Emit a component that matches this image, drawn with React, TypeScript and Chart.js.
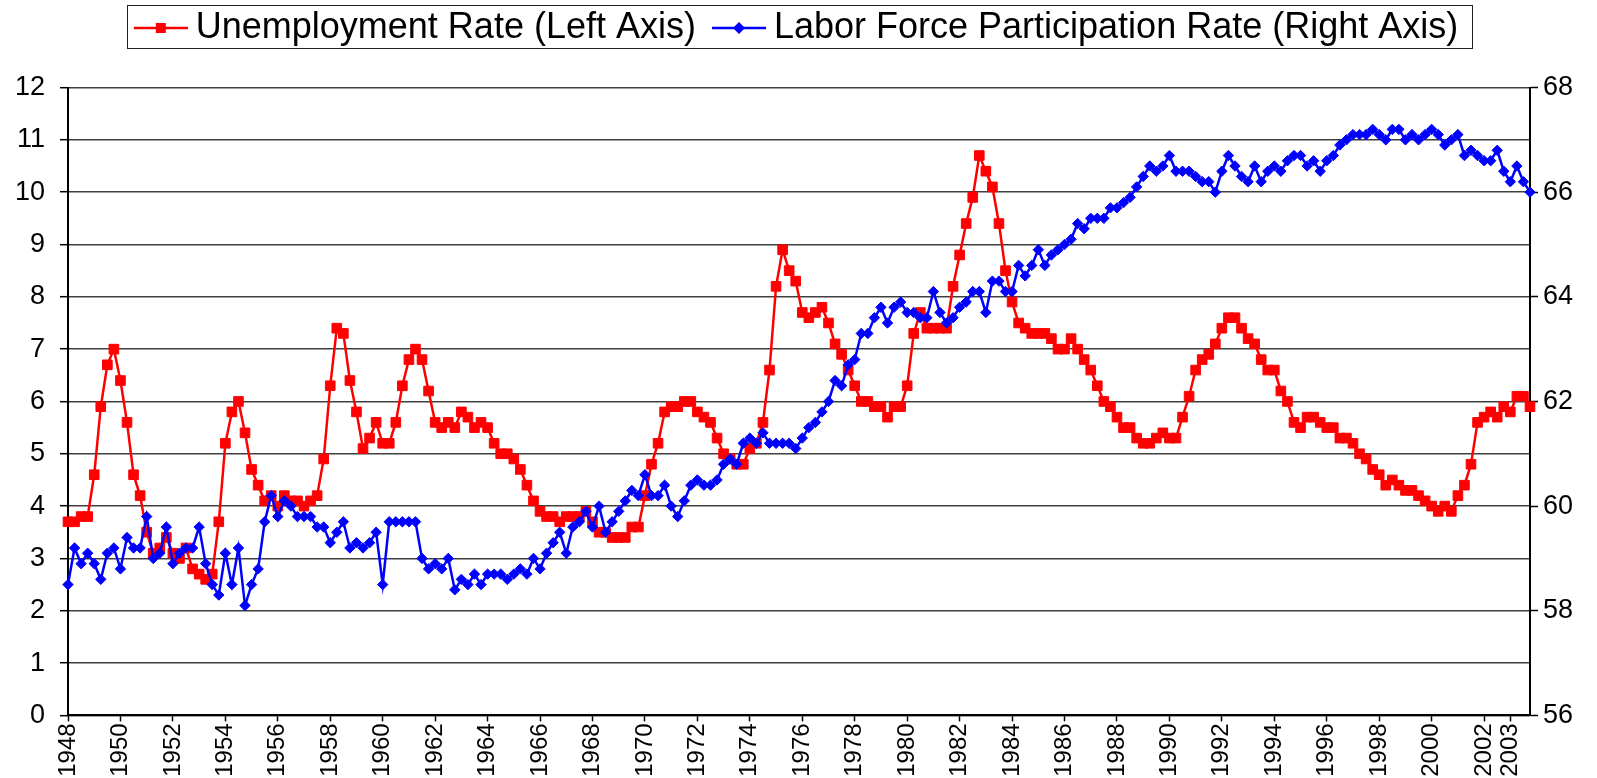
import React, { useEffect, useRef } from 'react';
import { Chart, registerables } from 'chart.js';

Chart.register(...registerables);

// ---------- data ----------
const FIRST_YEAR = 1948;
const LAST_YEAR = 2003;
const quarterNames = ['Q1', 'Q2', 'Q3', 'Q4'];
const tickYears = [
  1948, 1950, 1952, 1954, 1956, 1958, 1960, 1962, 1964, 1966, 1968, 1970, 1972, 1974,
  1976, 1978, 1980, 1982, 1984, 1986, 1988, 1990, 1992, 1994, 1996, 1998, 2000, 2002, 2003,
];

const quarters: string[] = [];
for (let y = FIRST_YEAR; y <= LAST_YEAR; y++) {
  for (const q of quarterNames) quarters.push(`${y} ${q}`);
}

// Unemployment rate, quarterly (left axis)
const unemploymentRate = [
  3.7, 3.7, 3.8, 3.8, // 1948
  4.6, 5.9, 6.7, 7.0, // 1949
  6.4, 5.6, 4.6, 4.2, // 1950
  3.5, 3.1, 3.2, 3.4, // 1951
  3.1, 3.0, 3.2, 2.8, // 1952
  2.7, 2.6, 2.7, 3.7, // 1953
  5.2, 5.8, 6.0, 5.4, // 1954
  4.7, 4.4, 4.1, 4.2, // 1955
  4.0, 4.2, 4.1, 4.1, // 1956
  4.0, 4.1, 4.2, 4.9, // 1957
  6.3, 7.4, 7.3, 6.4, // 1958
  5.8, 5.1, 5.3, 5.6, // 1959
  5.2, 5.2, 5.6, 6.3, // 1960
  6.8, 7.0, 6.8, 6.2, // 1961
  5.6, 5.5, 5.6, 5.5, // 1962
  5.8, 5.7, 5.5, 5.6, // 1963
  5.5, 5.2, 5.0, 5.0, // 1964
  4.9, 4.7, 4.4, 4.1, // 1965
  3.9, 3.8, 3.8, 3.7, // 1966
  3.8, 3.8, 3.8, 3.9, // 1967
  3.7, 3.5, 3.5, 3.4, // 1968
  3.4, 3.4, 3.6, 3.6, // 1969
  4.2, 4.8, 5.2, 5.8, // 1970
  5.9, 5.9, 6.0, 6.0, // 1971
  5.8, 5.7, 5.6, 5.3, // 1972
  5.0, 4.9, 4.8, 4.8, // 1973
  5.1, 5.2, 5.6, 6.6, // 1974
  8.2, 8.9, 8.5, 8.3, // 1975
  7.7, 7.6, 7.7, 7.8, // 1976
  7.5, 7.1, 6.9, 6.6, // 1977
  6.3, 6.0, 6.0, 5.9, // 1978
  5.9, 5.7, 5.9, 5.9, // 1979
  6.3, 7.3, 7.7, 7.4, // 1980
  7.4, 7.4, 7.4, 8.2, // 1981
  8.8, 9.4, 9.9, 10.7, // 1982
  10.4, 10.1, 9.4, 8.5, // 1983
  7.9, 7.5, 7.4, 7.3, // 1984
  7.3, 7.3, 7.2, 7.0, // 1985
  7.0, 7.2, 7.0, 6.8, // 1986
  6.6, 6.3, 6.0, 5.9, // 1987
  5.7, 5.5, 5.5, 5.3, // 1988
  5.2, 5.2, 5.3, 5.4, // 1989
  5.3, 5.3, 5.7, 6.1, // 1990
  6.6, 6.8, 6.9, 7.1, // 1991
  7.4, 7.6, 7.6, 7.4, // 1992
  7.2, 7.1, 6.8, 6.6, // 1993
  6.6, 6.2, 6.0, 5.6, // 1994
  5.5, 5.7, 5.7, 5.6, // 1995
  5.5, 5.5, 5.3, 5.3, // 1996
  5.2, 5.0, 4.9, 4.7, // 1997
  4.6, 4.4, 4.5, 4.4, // 1998
  4.3, 4.3, 4.2, 4.1, // 1999
  4.0, 3.9, 4.0, 3.9, // 2000
  4.2, 4.4, 4.8, 5.6, // 2001
  5.7, 5.8, 5.7, 5.9, // 2002
  5.8, 6.1, 6.1, 5.9, // 2003
];

// Labor force participation rate, quarterly (right axis)
const participationRate = [
  58.5, 59.2, 58.9, 59.1, 58.9, 58.6, 59.1, 59.2, // 1948-49
  58.8, 59.4, 59.2, 59.2, 59.8, 59.0, 59.1, 59.6, // 1950-51
  58.9, 59.1, 59.2, 59.2, 59.6, 58.9, 58.5, 58.3, // 1952-53
  59.1, 58.5, 59.2, 58.1, 58.5, 58.8, 59.7, 60.2, // 1954-55
  59.8, 60.1, 60.0, 59.8, 59.8, 59.8, 59.6, 59.6, // 1956-57
  59.3, 59.5, 59.7, 59.2, 59.3, 59.2, 59.3, 59.5, // 1958-59
  58.5, 59.7, 59.7, 59.7, 59.7, 59.7, 59.0, 58.8, // 1960-61
  58.9, 58.8, 59.0, 58.4, 58.6, 58.5, 58.7, 58.5, // 1962-63
  58.7, 58.7, 58.7, 58.6, 58.7, 58.8, 58.7, 59.0, // 1964-65
  58.8, 59.1, 59.3, 59.5, 59.1, 59.6, 59.7, 59.9, // 1966-67
  59.6, 60.0, 59.5, 59.7, 59.9, 60.1, 60.3, 60.2, // 1968-69
  60.6, 60.2, 60.2, 60.4, 60.0, 59.8, 60.1, 60.4, // 1970-71
  60.5, 60.4, 60.4, 60.5, 60.8, 60.9, 60.8, 61.2, // 1972-73
  61.3, 61.2, 61.4, 61.2, 61.2, 61.2, 61.2, 61.1, // 1974-75
  61.3, 61.5, 61.6, 61.8, 62.0, 62.4, 62.3, 62.7, // 1976-77
  62.8, 63.3, 63.3, 63.6, 63.8, 63.5, 63.8, 63.9, // 1978-79
  63.7, 63.7, 63.6, 63.6, 64.1, 63.7, 63.5, 63.6, // 1980-81
  63.8, 63.9, 64.1, 64.1, 63.7, 64.3, 64.3, 64.1, // 1982-83
  64.1, 64.6, 64.4, 64.6, 64.9, 64.6, 64.8, 64.9, // 1984-85
  65.0, 65.1, 65.4, 65.3, 65.5, 65.5, 65.5, 65.7, // 1986-87
  65.7, 65.8, 65.9, 66.1, 66.3, 66.5, 66.4, 66.5, // 1988-89
  66.7, 66.4, 66.4, 66.4, 66.3, 66.2, 66.2, 66.0, // 1990-91
  66.4, 66.7, 66.5, 66.3, 66.2, 66.5, 66.2, 66.4, // 1992-93
  66.5, 66.4, 66.6, 66.7, 66.7, 66.5, 66.6, 66.4, // 1994-95
  66.6, 66.7, 66.9, 67.0, 67.1, 67.1, 67.1, 67.2, // 1996-97
  67.1, 67.0, 67.2, 67.2, 67.0, 67.1, 67.0, 67.1, // 1998-99
  67.2, 67.1, 66.9, 67.0, 67.1, 66.7, 66.8, 66.7, // 2000-01
  66.6, 66.6, 66.8, 66.4, 66.2, 66.5, 66.2, 66.0, // 2002-03
];

const leftTicks = { min: 0, max: 12, step: 1 };
const rightTicks = { min: 56, max: 68, step: 2 };

const RED = '#FF0000';
const BLUE = '#0000FF';
const FONT = "'Liberation Sans', Arial, Helvetica, sans-serif";

function isLabelled(index: number): boolean {
  const lbl = quarters[index];
  if (!lbl) return false;
  const [yr, q] = lbl.split(' ');
  return q === 'Q1' && tickYears.includes(Number(yr));
}

function makeIcon(color: string, kind: 'rect' | 'diamond'): HTMLCanvasElement {
  const c = document.createElement('canvas');
  c.width = 70;
  c.height = 16;
  const g = c.getContext('2d')!;
  g.strokeStyle = color;
  g.lineWidth = 2.5;
  g.beginPath();
  g.moveTo(16, 8);
  g.lineTo(70, 8);
  g.stroke();
  g.fillStyle = color;
  const cx = 43;
  if (kind === 'rect') {
    g.fillRect(cx - 5, 3, 10, 10);
  } else {
    g.beginPath();
    g.moveTo(cx - 6, 8);
    g.lineTo(cx, 2);
    g.lineTo(cx + 6, 8);
    g.lineTo(cx, 14);
    g.closePath();
    g.fill();
  }
  return c;
}

const legendFrame = {
  id: 'legendFrame',
  afterDraw(chart: any) {
    const boxes = chart.legend?.legendHitBoxes;
    if (!boxes || !boxes.length) return;
    const ctx = chart.ctx;
    const l = Math.min(...boxes.map((b: any) => b.left)) - 1;
    const r = Math.max(...boxes.map((b: any) => b.left + b.width)) + 14;
    ctx.save();
    ctx.strokeStyle = '#222';
    ctx.lineWidth = 1;
    ctx.strokeRect(Math.round(l) + 0.5, 5.5, Math.round(r - l), 43);
    ctx.restore();
  },
};

export default function App() {
  const ref = useRef<HTMLCanvasElement | null>(null);

  useEffect(() => {
    if (!ref.current) return;
    const icons = [makeIcon(RED, 'rect'), makeIcon(BLUE, 'diamond')];
    const chart = new Chart(ref.current, {
      type: 'line',
      data: {
        labels: quarters,
        datasets: [
          {
            label: 'Unemployment Rate (Left Axis)',
            data: unemploymentRate,
            yAxisID: 'y',
            borderColor: RED,
            backgroundColor: RED,
            borderWidth: 2.5,
            pointStyle: 'rect',
            pointRadius: 6.8,
            pointBorderWidth: 1,
            pointBackgroundColor: RED,
            pointBorderColor: RED,
            tension: 0,
            order: 2,
          },
          {
            label: 'Labor Force Participation Rate (Right Axis)',
            data: participationRate,
            yAxisID: 'y1',
            borderColor: BLUE,
            backgroundColor: BLUE,
            borderWidth: 2.5,
            pointStyle: 'rectRot',
            pointRadius: 5.2,
            pointBorderWidth: 1,
            pointBackgroundColor: BLUE,
            pointBorderColor: BLUE,
            tension: 0,
            order: 1,
          },
        ],
      },
      options: {
        responsive: false,
        animation: false,
        devicePixelRatio: 1,
        events: [],
        layout: { padding: { left: 0, right: 11, top: 0, bottom: 0 } },
        plugins: {
          tooltip: { enabled: false },
          title: {
            display: true,
            text: '',
            weight: 500,
            font: { size: 10, lineHeight: 1 },
            padding: { top: 0, bottom: 21.5 },
          } as any,
          legend: {
            display: true,
            position: 'top',
            reverse: true,
            labels: {
              usePointStyle: true,
              pointStyleWidth: 50,
              padding: 10,
              color: '#000',
              font: { family: FONT, size: 36 },
              generateLabels: (c: any) => {
                const items = (Chart.defaults.plugins.legend.labels as any).generateLabels(c);
                items.forEach((it: any) => {
                  it.pointStyle = icons[it.datasetIndex];
                });
                return items;
              },
            },
          },
        },
        scales: {
          x: {
            type: 'category',
            offset: false,
            afterFit: (s: any) => {
              s.height = 62.6;
            },
            grid: {
              drawOnChartArea: false,
              drawTicks: true,
              tickLength: 6,
              tickWidth: 1.5,
              tickColor: (ctx: any) => (isLabelled(ctx.index) ? '#000' : 'rgba(0,0,0,0)'),
              offset: false,
            },
            border: { display: true, color: '#000', width: 2 },
            ticks: {
              autoSkip: false,
              maxRotation: 90,
              minRotation: 90,
              padding: 2,
              color: '#000',
              font: { family: FONT, size: 24 },
              callback: (_v: any, index: number) => (isLabelled(index) ? quarters[index].split(' ')[0] : ''),
            },
          },
          y: {
            type: 'linear',
            position: 'left',
            min: leftTicks.min,
            max: leftTicks.max,
            afterFit: (s: any) => {
              s.width = 68;
            },
            grid: {
              color: '#404040',
              lineWidth: 1.4,
              drawTicks: true,
              tickLength: 8,
              tickColor: '#000',
              tickWidth: 1.5,
            },
            border: { display: true, color: '#000', width: 2 },
            ticks: {
              stepSize: leftTicks.step,
              padding: 15,
              color: '#000',
              font: { family: FONT, size: 27 },
            },
          },
          y1: {
            type: 'linear',
            position: 'right',
            min: rightTicks.min,
            max: rightTicks.max,
            afterFit: (s: any) => {
              s.width = 56;
            },
            grid: {
              drawOnChartArea: false,
              drawTicks: true,
              tickLength: 8,
              tickColor: '#000',
              tickWidth: 1.5,
            },
            border: { display: true, color: '#000', width: 2 },
            ticks: {
              stepSize: rightTicks.step,
              padding: 5,
              color: '#000',
              font: { family: FONT, size: 27 },
            },
          },
        },
      } as any,
      plugins: [legendFrame],
    });
    return () => chart.destroy();
  }, []);

  return (
    <div style={{ position: 'absolute', left: 0, top: 0, width: 1597, height: 778, background: '#fff' }}>
      <canvas ref={ref} width={1597} height={778} style={{ width: 1597, height: 778, display: 'block' }} />
    </div>
  );
}
